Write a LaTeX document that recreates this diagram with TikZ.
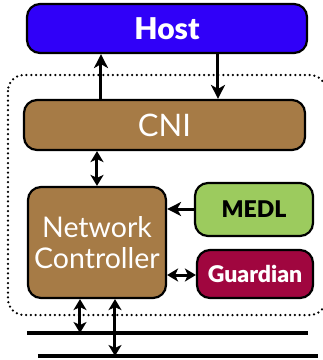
\documentclass[tikz,border=0pt]{standalone}
\usepackage{fontspec}
\setmainfont{Lato}
\newfontfamily\heavyfont{Lato Black}
\usetikzlibrary{arrows.meta}
\definecolor{hostblue}{HTML}{3000F8}
\definecolor{ctrlbrown}{HTML}{A67B46}
\definecolor{medlgreen}{HTML}{9CCB5E}
\definecolor{guardred}{HTML}{A0063F}
\tikzset{
  blockbox/.style={draw=black, line width=2.2pt, rounded corners=13pt,
    inner sep=0pt, align=center, text=white},
  bighead/.tip={Stealth[length=14pt,width=14pt,inset=4pt]},
  smallhead/.tip={Stealth[length=11pt,width=13pt,inset=3pt]},
  link/.style={line width=3pt, -bighead},
  dlink/.style={line width=3pt, smallhead-smallhead},
  busline/.style={line width=3.2pt},
  region/.style={line width=2.5pt, line cap=round, dash pattern=on 0pt off 4.8pt, rounded corners=16pt}
}
\begin{document}
\begin{tikzpicture}[x=1pt,y=-1pt]
\useasboundingbox (0,0) rectangle (323,360);
% controller region
\draw[region] (8,75) rectangle (326,315);
% blocks
\node[blockbox, fill=hostblue, minimum width=280pt, minimum height=49pt,
  font=\heavyfont\fontsize{30}{32}\selectfont] (host) at (167,28.5) {Host};
\node[blockbox, fill=ctrlbrown, minimum width=281pt, minimum height=50pt,
  font=\fontsize{31}{34}\selectfont] (cni) at (164.5,125) {CNI};
\node[blockbox, fill=ctrlbrown, minimum width=138pt, minimum height=111pt,
  font=\fontsize{28.5}{31}\selectfont] (nc) at (97,242.5) {Network\\Controller};
\node[blockbox, fill=medlgreen, text=black, minimum width=118pt, minimum height=53pt,
  font=\heavyfont\fontsize{23}{26}\selectfont] (medl) at (254,209.5) {MEDL};
\node[blockbox, fill=guardred, minimum width=116pt, minimum height=48pt,
  font=\heavyfont\fontsize{23}{26}\selectfont] (guard) at (255,274) {Guardian};
% bus lines
\coordinate (bus1w) at (27,333);
\coordinate (bus1e) at (308,333);
\coordinate (bus2w) at (38,356);
\coordinate (bus2e) at (318,356);
\draw[busline] (bus1w) -- (bus1e);
\draw[busline] (bus2w) -- (bus2e);
% connector columns
\coordinate (upx) at (101,0);
\coordinate (downx) at (218,0);
\coordinate (cnix) at (97,0);
\coordinate (medly) at (0,209);
\coordinate (guardy) at (0,275);
\coordinate (busax) at (80,0);
\coordinate (busbx) at (115,0);
% connectors
\draw[link] (upx |- cni.north) -- (upx |- host.south);
\draw[link] (downx |- host.south) -- (downx |- cni.north);
\draw[dlink] (cnix |- cni.south) -- (cnix |- nc.north);
\draw[link] (medl.west |- medly) -- (nc.east |- medly);
\draw[dlink] (nc.east |- guardy) -- (guard.west |- guardy);
\draw[dlink] (busax |- nc.south) -- (busax |- bus1w);
\draw[dlink] (busbx |- nc.south) -- (busbx |- bus2w);
\end{tikzpicture}
\end{document}
